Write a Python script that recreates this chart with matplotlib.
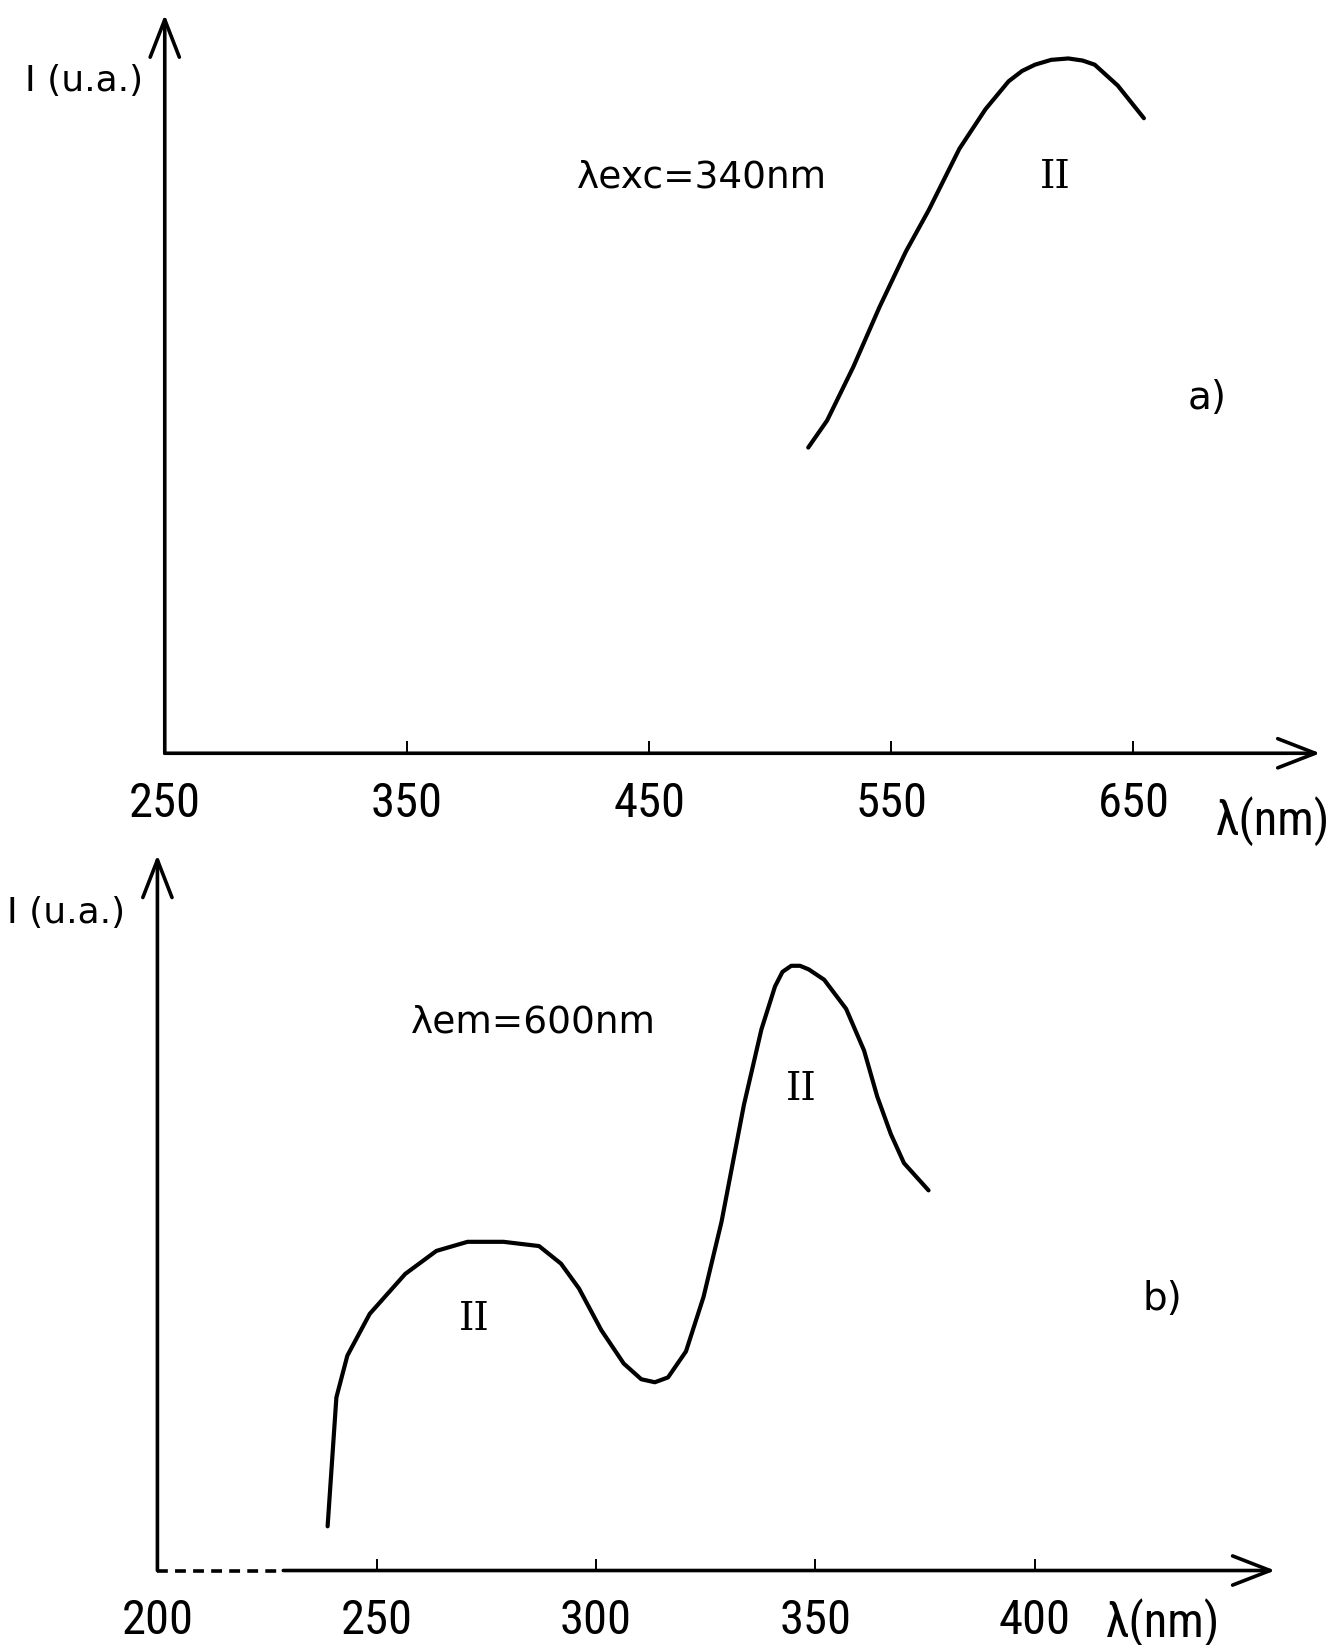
import matplotlib.pyplot as plt
from matplotlib import font_manager

# spectrum a) emission, lambda exc = 340 nm
em_wl = [515.7, 523.5, 534.3, 545.1, 556.0, 565.5, 578.1, 588.9, 598.4, 604.0, 609.3, 616.0,
         623.1, 629.0, 634.0, 643.5, 654.3]
em_int = [44.0, 47.9, 55.6, 64.2, 72.2, 78.2, 87.0, 92.7, 96.7, 98.2, 99.1, 99.8,
          100.0, 99.7, 99.1, 96.1, 91.4]

# spectrum b) excitation, lambda em = 600 nm
ex_wl = [238.8, 240.8, 243.3, 248.4, 256.5, 263.6, 270.7, 278.9, 287.0, 292.0, 296.1, 301.2,
         306.3, 310.3, 313.4, 316.4, 320.5, 324.5, 328.6, 333.7, 337.7, 340.8, 342.5, 344.5,
         346.5, 348.5, 352.0, 357.0, 361.1, 364.1, 367.2, 370.2, 375.8]
ex_int = [7.3, 28.6, 35.5, 42.4, 49.0, 52.8, 54.3, 54.3, 53.6, 50.7, 46.6, 39.7,
          34.2, 31.6, 31.1, 31.9, 36.2, 45.2, 57.6, 76.9, 89.4, 96.5, 98.9, 99.9,
          99.9, 99.3, 97.6, 92.8, 85.9, 78.3, 72.1, 67.3, 62.8]

ticks_a = [250, 350, 450, 550, 650]
ticks_b = [200, 250, 300, 350, 400]

W, H = 1274.0, 1568.0  # layout measured on the shrunk reference


def place(x0, x1, y_top, y_bot):
    return [x0 / W, 1 - y_bot / H, (x1 - x0) / W, (y_bot - y_top) / H]


# narrow digits like the stencil lettering, if such a face is installed
names = {f.name for f in font_manager.fontManager.ttflist}
num_font = 'DejaVu Sans'
num_stretch = 'normal'
for cand in ['Liberation Sans Narrow', 'Roboto Condensed', 'Open Sans Condensed']:
    if cand in names:
        num_font = cand
        break
else:
    if any(f.name == 'DejaVu Sans' and f.stretch == 'condensed' for f in font_manager.fontManager.ttflist):
        num_stretch = 'condensed'
txt_font = 'DejaVu Sans'

fig = plt.figure(figsize=(13.37, 16.45), dpi=100)


def draw_frame(ax, xmin, xmax, ymax, dash_to=None):
    ax.set_xlim(xmin, xmax)
    ax.set_ylim(0, ymax)
    for s in ax.spines.values():
        s.set_visible(False)
    ax.set_yticks([])
    arrow = dict(arrowstyle='->,head_length=0.9,head_width=0.35', lw=2.6, color='black',
                 mutation_scale=30, shrinkA=0, shrinkB=0)
    ax.annotate('', xy=(xmin, ymax), xytext=(xmin, 0), xycoords='data', arrowprops=arrow,
                annotation_clip=False)
    start = xmin if dash_to is None else dash_to
    ax.annotate('', xy=(xmax, 0), xytext=(start, 0), xycoords='data', arrowprops=arrow,
                annotation_clip=False)
    if dash_to is not None:
        ax.plot([xmin, dash_to], [0, 0], color='black', lw=2.6, ls=(0, (3, 2)), clip_on=False)
    ax.tick_params(axis='x', direction='in', length=9, width=1.4, pad=20,
                   labelsize=35)


# ---- a) ----
ax1 = fig.add_axes(place(157, 1258, 14, 718))
draw_frame(ax1, 250, 727.1, 106.3)
ax1.set_xticks(ticks_a)
ax1.set_xticklabels([str(t) for t in ticks_a], family=num_font, stretch=num_stretch)
ax1.plot(em_wl, em_int, color='black', lw=3.0, solid_capstyle='round', solid_joinstyle='round')
ax1.text(216.6, 96.8, 'I (u.a.)', fontsize=26, family=txt_font, ha='center', va='center',
         clip_on=False)
ax1.text(471.9, 82.8, 'λexc=340nm', fontsize=27, family=txt_font, ha='center', va='center')
ax1.text(617.5, 82.8, 'II', fontsize=28, family='DejaVu Serif', ha='center', va='center')
ax1.text(680.3, 51.1, 'a)', fontsize=28, family=txt_font, ha='center', va='center')
ax1.text(707.6, -9.7, 'λ(nm)', fontsize=35, family=num_font, stretch=num_stretch,
         ha='center', va='center', clip_on=False)

# ---- b) ----
ax2 = fig.add_axes(place(150, 1215, 815, 1497))
draw_frame(ax2, 200, 454.8, 118.2, dash_to=228.7)
ax2.set_xticks(ticks_b)
ax2.set_xticklabels([str(t) for t in ticks_b], family=num_font, stretch=num_stretch)
ax2.plot(ex_wl, ex_int, color='black', lw=3.0, solid_capstyle='round', solid_joinstyle='round')
ax2.text(179.2, 108.7, 'I (u.a.)', fontsize=26, family=txt_font, ha='center', va='center',
         clip_on=False)
ax2.text(285.6, 90.5, 'λem=600nm', fontsize=27, family=txt_font, ha='center', va='center')
ax2.text(346.7, 79.5, 'II', fontsize=28, family='DejaVu Serif', ha='center', va='center')
ax2.text(272.2, 41.4, 'II', fontsize=28, family='DejaVu Serif', ha='center', va='center')
ax2.text(429.2, 44.9, 'b)', fontsize=28, family=txt_font, ha='center', va='center')
ax2.text(429.2, -8.7, 'λ(nm)', fontsize=35, family=num_font, stretch=num_stretch,
         ha='center', va='center', clip_on=False)

fig.savefig('out.png', dpi=100, facecolor='white')
